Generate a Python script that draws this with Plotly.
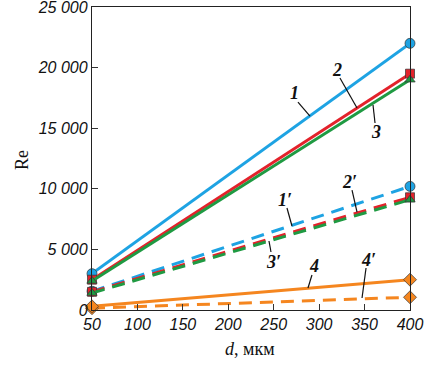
import plotly.graph_objects as go

d = [50, 400]
re_1 = [3000, 22000]
re_2 = [2500, 19500]
re_3 = [2400, 19000]
re_1p = [1550, 10200]
re_2p = [1500, 9300]
re_3p = [1400, 9100]
re_4 = [300, 2500]
re_4p = [150, 1050]

x_ticks = [50, 100, 150, 200, 250, 300, 350, 400]
x_ticktext = ["50", "100", "150", "200", "250", "300", "350", "400"]
y_ticks = [0, 5000, 10000, 15000, 20000, 25000]
y_ticktext = ["0", "5 000", "10 000", "15 000", "20 000", "25 000"]

BLUE = "#1ea3e3"
RED = "#e3222b"
GREEN = "#1f9a42"
ORANGE = "#f5861f"
DASH = "13px,8px"

series = [
    ("1'", re_1p, BLUE, "circle", 10, DASH),
    ("2'", re_2p, RED, "square", 9, DASH),
    ("3'", re_3p, GREEN, "triangle-up", 9, DASH),
    ("4'", re_4p, ORANGE, "diamond", 10, DASH),
    ("4", re_4, ORANGE, "diamond", 10, "solid"),
    ("1", re_1, BLUE, "circle", 10, "solid"),
    ("2", re_2, RED, "square", 9, "solid"),
    ("3", re_3, GREEN, "triangle-up", 9, "solid"),
]

fig = go.Figure()
for name, ys, col, sym, sz, dash in series:
    fig.add_trace(go.Scatter(
        x=d, y=ys, mode="lines+markers", name=name,
        line=dict(color=col, width=3, dash=dash),
        marker=dict(symbol=sym, size=sz, color=col,
                    line=dict(color="#333333", width=0.7)),
        cliponaxis=False, showlegend=False))

# curve labels: (text, text_x, text_y, leader x0, y0, x1, y1)
labels = [
    ("1", 273.4, 17878, 276.7, 17160, 289.9, 16005),
    ("2", 320.0, 19800, 322.9, 19140, 341.7, 16665),
    ("3", 362.6, 14710, 359.3, 16913, 361.5, 15428),
    ("1′", 262.4, 9075, 264.6, 8415, 270.1, 6930),
    ("2′", 333.2, 10585, 336.2, 9900, 341.7, 8085),
    ("3′", 250.3, 3985, 247.0, 4785, 244.8, 5693),
    ("4", 294.3, 3630, 292.1, 2888, 287.7, 1815),
    ("4′", 354.1, 4125, 351.6, 3465, 347.2, 990),
]
for t, tx, ty, x0, y0, x1, y1 in labels:
    fig.add_annotation(x=tx, y=ty, text=f"<b><i>{t}</i></b>", showarrow=False,
                       font=dict(family="Liberation Serif", size=18, color="#111111"))
    fig.add_shape(type="line", x0=x0, y0=y0, x1=x1, y1=y1,
                  line=dict(color="#111111", width=1.2))

tickfont = dict(family="Liberation Sans, Arial", size=16, color="#111111",
                style="italic")
fig.update_xaxes(range=[50, 400], tickvals=x_ticks,
                 ticktext=[f"<i>{t}</i>" for t in x_ticktext],
                 ticks="inside", ticklen=6, tickcolor="#333333", tickfont=tickfont,
                 ticklabeloverflow="allow", showgrid=False, automargin=False,
                 zeroline=False, showline=True, linecolor="#222222", linewidth=1.3,
                 mirror=True)
fig.update_yaxes(range=[0, 25000], tickvals=y_ticks,
                 ticktext=[f"<i>{t}</i>" for t in y_ticktext],
                 ticks="inside", ticklen=6, tickcolor="#333333", tickfont=tickfont,
                 ticklabeloverflow="allow", showgrid=False, zeroline=False,
                 automargin=False,
                 showline=True, linecolor="#222222", linewidth=1.3, mirror=True)

fig.add_annotation(xref="paper", yref="paper", x=-0.258, y=0.495, text="Re",
                   textangle=-90, showarrow=False,
                   font=dict(family="Liberation Serif", size=18, color="#111111"))
fig.add_annotation(xref="paper", yref="paper", x=0.497, y=-0.168,
                   text="<i>d</i>, мкм", showarrow=False,
                   font=dict(family="Liberation Serif", size=18, color="#111111"))

fig.update_layout(width=425, height=369, margin=dict(l=92, r=15, t=7, b=59),
                  plot_bgcolor="white", paper_bgcolor="white")
fig.write_html("out.html", config={"displayModeBar": False},
               post_script="document.body.style.margin='0';document.body.style.overflow='hidden';")
